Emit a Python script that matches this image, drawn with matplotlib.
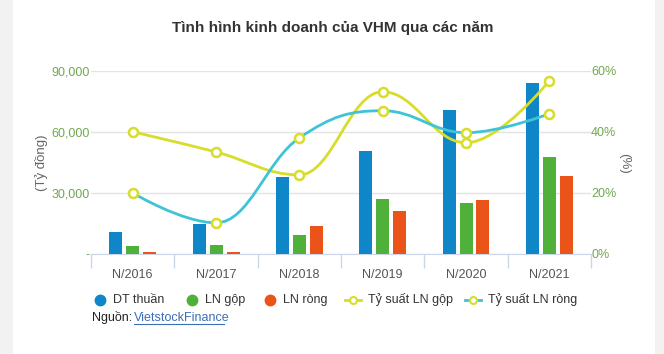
import matplotlib.pyplot as plt
from matplotlib.path import Path
from matplotlib.patches import PathPatch, Rectangle
from matplotlib.lines import Line2D
import numpy as np

plt.rcParams['font.family'] = ['Liberation Sans', 'DejaVu Sans']

years = ['N/2016', 'N/2017', 'N/2018', 'N/2019', 'N/2020', 'N/2021']
dt_thuan = [10800, 14750, 37900, 50650, 70800, 84100]
ln_gop = [3900, 4400, 9300, 27000, 25100, 47700]
ln_rong = [1000, 1000, 13800, 21150, 26550, 38400]
ts_gop = [40.0, 33.4, 25.9, 53.1, 36.4, 56.7]
ts_rong = [20.0, 10.2, 38.0, 46.9, 39.7, 45.9]

C_BLUE = '#0f86c8'
C_GREEN = '#4fb13a'
C_ORANGE = '#ea5418'
C_YELLOW = '#d8dc2a'
C_CYAN = '#3ec4d6'
C_TICK = '#6fa84e'
W, H = 664, 354


def spline_path(xs, ys, s=1.5):
    # highcharts-like spline: bezier control points from neighbours
    n = len(xs)
    d = s + 1
    lc, rc = [None] * n, [None] * n
    for i in range(1, n - 1):
        lx = (s * xs[i] + xs[i - 1]) / d
        ly = (s * ys[i] + ys[i - 1]) / d
        rx = (s * xs[i] + xs[i + 1]) / d
        ry = (s * ys[i] + ys[i + 1]) / d
        corr = (ry - ly) * (rx - xs[i]) / (rx - lx) + ys[i] - ry
        ly += corr
        ry += corr
        if ly > ys[i - 1] and ly > ys[i]:
            ly = max(ys[i - 1], ys[i]); ry = 2 * ys[i] - ly
        elif ly < ys[i - 1] and ly < ys[i]:
            ly = min(ys[i - 1], ys[i]); ry = 2 * ys[i] - ly
        if ry > ys[i + 1] and ry > ys[i]:
            ry = max(ys[i + 1], ys[i]); ly = 2 * ys[i] - ry
        elif ry < ys[i + 1] and ry < ys[i]:
            ry = min(ys[i + 1], ys[i]); ly = 2 * ys[i] - ry
        lc[i] = (lx, ly)
        rc[i] = (rx, ry)
    verts = [(xs[0], ys[0])]
    codes = [Path.MOVETO]
    for i in range(1, n):
        c1 = rc[i - 1] if rc[i - 1] else (xs[i - 1], ys[i - 1])
        c2 = lc[i] if lc[i] else (xs[i], ys[i])
        verts += [c1, c2, (xs[i], ys[i])]
        codes += [Path.CURVE4] * 3
    return Path(verts, codes)


fig = plt.figure(figsize=(W / 100, H / 100), dpi=100)
fig.patch.set_facecolor('#f2f2f2')
fig.add_artist(Rectangle((13 / W, 0), (655 - 13) / W, 1, transform=fig.transFigure,
                         facecolor='white', edgecolor='none', zorder=0))

ax = fig.add_axes([91 / W, 1 - 254 / H, 500 / W, (254 - 70.7) / H])
ax.set_facecolor('none')
x = np.arange(len(years))
bw = 0.156
step = 0.204
ax.bar(x - step, dt_thuan, bw, color=C_BLUE, zorder=3)
ax.bar(x, ln_gop, bw, color=C_GREEN, zorder=3)
ax.bar(x + step, ln_rong, bw, color=C_ORANGE, zorder=3)

ax.set_xlim(-0.5, len(years) - 0.5)
ax.set_ylim(0, 90000)
ax.set_yticks([0, 30000, 60000, 90000])
ax.set_yticklabels(['-', '30,000', '60,000', '90,000'])
ax.tick_params(axis='y', length=0, pad=1, labelsize=9, labelcolor=C_TICK)
ax.yaxis.grid(True, color='#e3e3e3', lw=1, zorder=0)
ax.set_xticks(x)
ax.set_xticklabels(years)
ax.set_xticks(np.arange(-0.5, len(years)), minor=True)
ax.tick_params(axis='x', which='major', length=0, pad=11, labelsize=9, labelcolor='#555555')
ax.tick_params(axis='x', which='minor', length=10, color='#ccd6eb', width=1)
for sp in ['top', 'left', 'right']:
    ax.spines[sp].set_visible(False)
ax.spines['bottom'].set_color('#ccd6eb')

ax2 = ax.twinx()
ax2.set_ylim(0, 60)
ax2.set_yticks([0, 20, 40, 60])
ax2.set_yticklabels(['0%', '20%', '40%', '60%'])
ax2.tick_params(axis='y', length=0, pad=0, labelsize=9, labelcolor=C_TICK)
for sp in ax2.spines.values():
    sp.set_visible(False)

for vals, col in [(ts_gop, C_YELLOW), (ts_rong, C_CYAN)]:
    ax2.add_patch(PathPatch(spline_path(list(x), vals), fill=False, edgecolor=col,
                            lw=2, zorder=4, clip_on=False))
    ax2.plot(x, vals, ls='none', marker='o', ms=6.5, mfc='white', mec=C_YELLOW,
             mew=1.8, zorder=5, clip_on=False)

fig.text(333 / W, 1 - 28 / H, 'Tình hình kinh doanh của VHM qua các năm', ha='center',
         va='center', fontsize=11, fontweight='bold', color='#333333')
fig.text(42 / W, 1 - 163 / H, '(Tỷ đồng)', rotation=90, ha='center', va='center',
         fontsize=9.5, color='#666666')
fig.text(624 / W, 1 - 163 / H, '(%)', rotation=-90, ha='center', va='center',
         fontsize=9.5, color='#666666')

# legend
ly = 1 - 300 / H
items = [
    (100, 'circle', C_BLUE, 'DT thuần'),
    (192, 'circle', C_GREEN, 'LN gộp'),
    (270, 'circle', C_ORANGE, 'LN ròng'),
    (353, 'line', C_YELLOW, 'Tỷ suất LN gộp'),
    (473, 'line', C_CYAN, 'Tỷ suất LN ròng'),
]
for px, kind, col, label in items:
    if kind == 'circle':
        fig.add_artist(Line2D([px / W], [ly], marker='o', ms=7.5, color=col, ls='none',
                              transform=fig.transFigure))
        tx = px + 13
    else:
        fig.add_artist(Line2D([(px - 8) / W, (px + 8) / W], [ly, ly], color=col, lw=2,
                              transform=fig.transFigure))
        fig.add_artist(Line2D([px / W], [ly], marker='o', ms=5, mfc='white', mec=C_YELLOW,
                              mew=1.5, ls='none', transform=fig.transFigure))
        tx = px + 15
    fig.text(tx / W, ly, label, ha='left', va='center', fontsize=9, color='#333333')

fig.text(92 / W, 1 - 318 / H, 'Nguồn: ', ha='left', va='center', fontsize=9, color='#222222')
fig.text(134 / W, 1 - 318 / H, 'VietstockFinance', ha='left', va='center', fontsize=9,
         color='#3b6fb6')
fig.add_artist(Line2D([134 / W, 224 / W], [1 - 324 / H, 1 - 324 / H], color='#3b6fb6', lw=0.8,
                      transform=fig.transFigure))

fig.savefig('out.png', dpi=100, facecolor=fig.get_facecolor())
